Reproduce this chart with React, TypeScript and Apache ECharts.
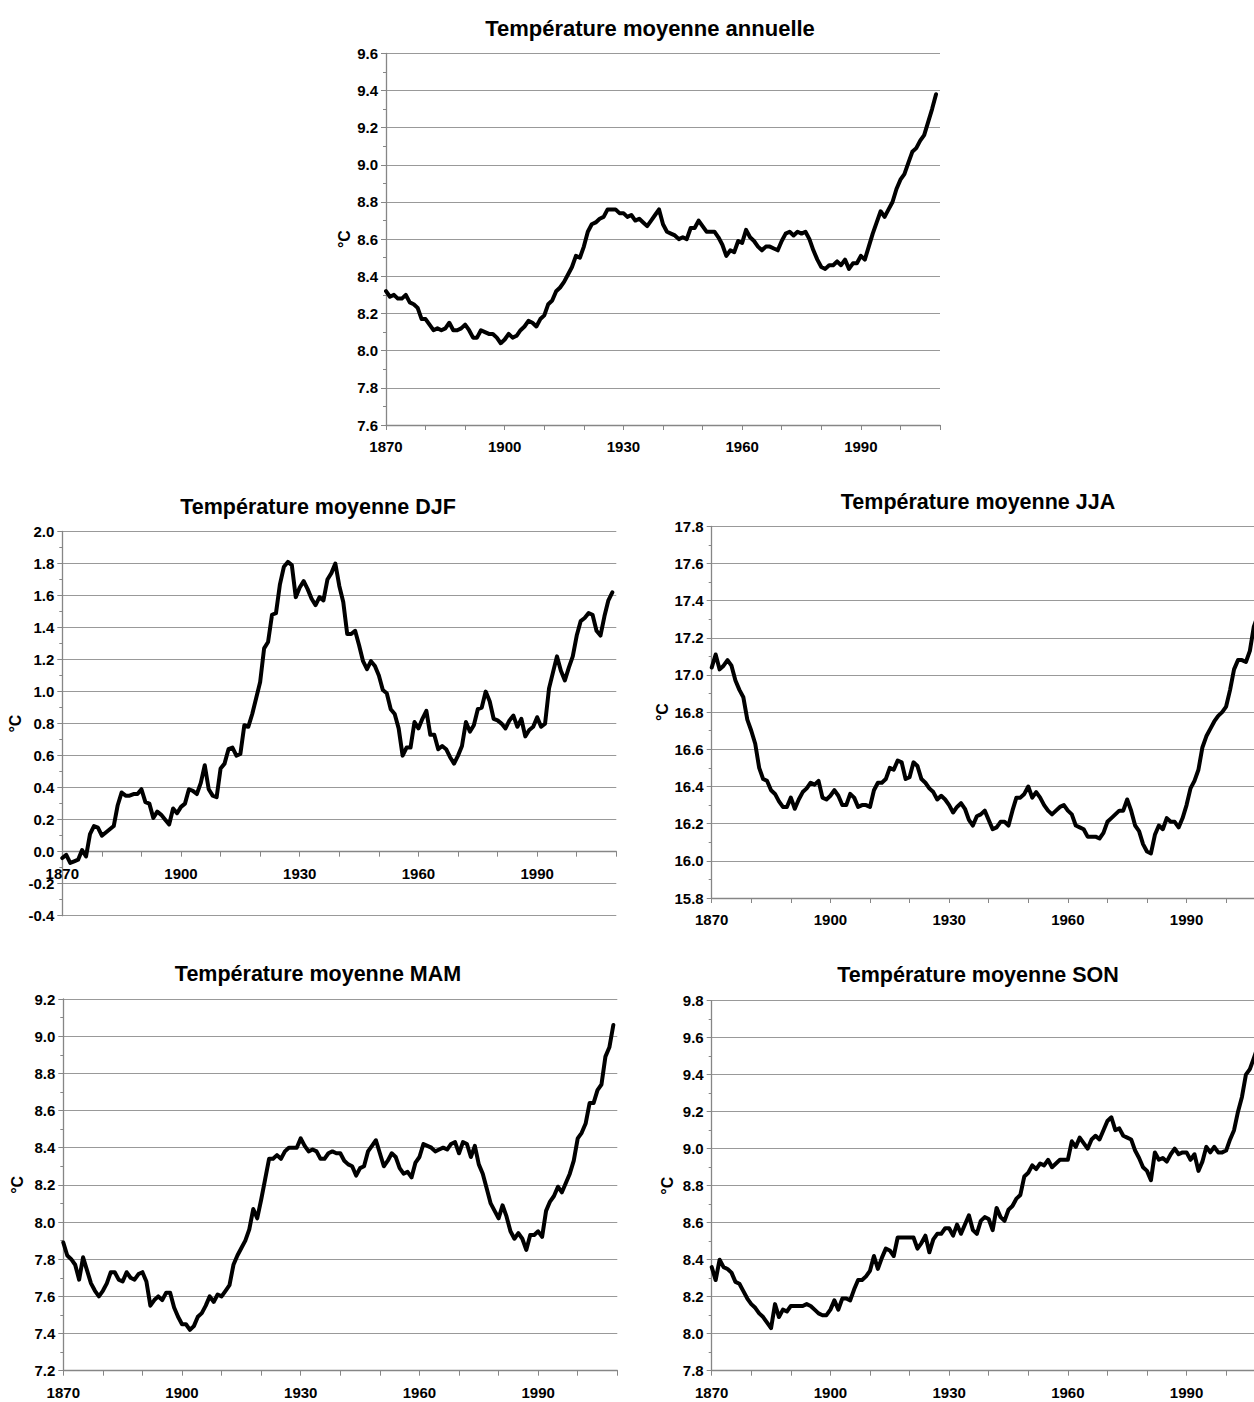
import React, { useEffect, useRef } from "react";
import * as echarts from "echarts";

const startYear = 1870;
const years: number[] = Array.from({ length: 140 }, (_, i) => startYear + i);

const annual = [
  8.32, 8.29, 8.30, 8.28, 8.28, 8.30, 8.26, 8.25, 8.23, 8.17,
  8.17, 8.14, 8.11, 8.12, 8.11, 8.12, 8.15, 8.11, 8.11, 8.12,
  8.14, 8.11, 8.07, 8.07, 8.11, 8.10, 8.09, 8.09, 8.07, 8.04,
  8.06, 8.09, 8.07, 8.08, 8.11, 8.13, 8.16, 8.15, 8.13, 8.17,
  8.19, 8.25, 8.27, 8.32, 8.34, 8.37, 8.41, 8.45, 8.51, 8.50,
  8.56, 8.64, 8.68, 8.69, 8.71, 8.72, 8.76, 8.76, 8.76, 8.74,
  8.74, 8.72, 8.73, 8.70, 8.71, 8.69, 8.67, 8.70, 8.73, 8.76,
  8.68, 8.64, 8.63, 8.62, 8.60, 8.61, 8.60, 8.66, 8.66, 8.70,
  8.67, 8.64, 8.64, 8.64, 8.61, 8.57, 8.51, 8.54, 8.53, 8.59,
  8.58, 8.65, 8.61, 8.59, 8.56, 8.54, 8.56, 8.56, 8.55, 8.54,
  8.59, 8.63, 8.64, 8.62, 8.64, 8.63, 8.64, 8.60, 8.54, 8.49,
  8.45, 8.44, 8.46, 8.46, 8.48, 8.46, 8.49, 8.44, 8.47, 8.47,
  8.51, 8.49, 8.56, 8.63, 8.69, 8.75, 8.72, 8.76, 8.80, 8.87,
  8.92, 8.95, 9.01, 9.07, 9.09, 9.13, 9.16, 9.23, 9.30, 9.38,
];

const djf = [
  -0.04, -0.02, -0.07, -0.06, -0.05, 0.01, -0.03, 0.11, 0.16, 0.15,
  0.10, 0.12, 0.14, 0.16, 0.29, 0.37, 0.35, 0.35, 0.36, 0.36,
  0.39, 0.31, 0.30, 0.21, 0.25, 0.23, 0.20, 0.17, 0.27, 0.24,
  0.28, 0.30, 0.39, 0.38, 0.36, 0.43, 0.54, 0.39, 0.35, 0.34,
  0.52, 0.55, 0.64, 0.65, 0.60, 0.61, 0.79, 0.78, 0.86, 0.96,
  1.06, 1.27, 1.31, 1.48, 1.49, 1.67, 1.78, 1.81, 1.79, 1.59,
  1.65, 1.69, 1.64, 1.58, 1.54, 1.59, 1.57, 1.70, 1.74, 1.80,
  1.66, 1.56, 1.36, 1.36, 1.38, 1.29, 1.19, 1.14, 1.19, 1.16,
  1.10, 1.01, 0.99, 0.89, 0.86, 0.77, 0.60, 0.65, 0.65, 0.81,
  0.77, 0.83, 0.88, 0.73, 0.73, 0.64, 0.66, 0.64, 0.59, 0.55,
  0.60, 0.66, 0.81, 0.75, 0.79, 0.89, 0.90, 1.00, 0.94, 0.83,
  0.82, 0.80, 0.77, 0.82, 0.85, 0.78, 0.83, 0.72, 0.76, 0.78,
  0.84, 0.78, 0.80, 1.02, 1.12, 1.22, 1.13, 1.07, 1.15, 1.22,
  1.35, 1.44, 1.46, 1.49, 1.48, 1.38, 1.35, 1.47, 1.57, 1.62,
];

const jja = [
  17.04, 17.11, 17.03, 17.05, 17.08, 17.05, 16.97, 16.92, 16.88, 16.76,
  16.70, 16.63, 16.50, 16.44, 16.43, 16.38, 16.36, 16.32, 16.29, 16.29,
  16.34, 16.28, 16.33, 16.37, 16.39, 16.42, 16.41, 16.43, 16.34, 16.33,
  16.35, 16.38, 16.35, 16.30, 16.30, 16.36, 16.34, 16.29, 16.30, 16.30,
  16.29, 16.38, 16.42, 16.42, 16.44, 16.50, 16.49, 16.54, 16.53, 16.44,
  16.45, 16.53, 16.51, 16.44, 16.42, 16.39, 16.37, 16.33, 16.35, 16.33,
  16.30, 16.26, 16.29, 16.31, 16.28, 16.22, 16.19, 16.24, 16.25, 16.27,
  16.22, 16.17, 16.18, 16.21, 16.21, 16.19, 16.27, 16.34, 16.34, 16.36,
  16.40, 16.34, 16.37, 16.34, 16.30, 16.27, 16.25, 16.27, 16.29, 16.30,
  16.27, 16.25, 16.19, 16.18, 16.17, 16.13, 16.13, 16.13, 16.12, 16.15,
  16.21, 16.23, 16.25, 16.27, 16.27, 16.33, 16.27, 16.19, 16.16, 16.09,
  16.05, 16.04, 16.14, 16.19, 16.17, 16.23, 16.21, 16.21, 16.18, 16.23,
  16.30, 16.39, 16.43, 16.49, 16.61, 16.67, 16.71, 16.75, 16.78, 16.80,
  16.83, 16.92, 17.03, 17.08, 17.08, 17.07, 17.13, 17.26, 17.32, 17.40,
];

const mam = [
  7.89, 7.82, 7.80, 7.77, 7.69, 7.81, 7.74, 7.67, 7.63, 7.60,
  7.63, 7.67, 7.73, 7.73, 7.69, 7.68, 7.73, 7.70, 7.69, 7.72,
  7.73, 7.68, 7.55, 7.58, 7.60, 7.58, 7.62, 7.62, 7.54, 7.49,
  7.45, 7.45, 7.42, 7.44, 7.49, 7.51, 7.55, 7.60, 7.57, 7.61,
  7.60, 7.63, 7.66, 7.77, 7.82, 7.86, 7.90, 7.96, 8.07, 8.02,
  8.12, 8.23, 8.34, 8.34, 8.36, 8.34, 8.38, 8.40, 8.40, 8.40,
  8.45, 8.41, 8.38, 8.39, 8.38, 8.34, 8.34, 8.37, 8.38, 8.37,
  8.37, 8.33, 8.31, 8.30, 8.25, 8.29, 8.30, 8.38, 8.41, 8.44,
  8.37, 8.30, 8.33, 8.37, 8.35, 8.29, 8.26, 8.27, 8.24, 8.32,
  8.35, 8.42, 8.41, 8.40, 8.38, 8.39, 8.40, 8.39, 8.42, 8.43,
  8.37, 8.43, 8.42, 8.35, 8.41, 8.31, 8.26, 8.18, 8.10, 8.06,
  8.02, 8.09, 8.03, 7.95, 7.91, 7.94, 7.91, 7.85, 7.93, 7.93,
  7.95, 7.92, 8.06, 8.11, 8.14, 8.19, 8.16, 8.21, 8.26, 8.33,
  8.45, 8.48, 8.53, 8.64, 8.64, 8.71, 8.74, 8.89, 8.94, 9.06,
];

const son = [
  8.36, 8.29, 8.40, 8.36, 8.35, 8.33, 8.28, 8.27, 8.23, 8.19,
  8.16, 8.14, 8.11, 8.09, 8.06, 8.03, 8.16, 8.09, 8.13, 8.12,
  8.15, 8.15, 8.15, 8.15, 8.16, 8.15, 8.13, 8.11, 8.10, 8.10,
  8.13, 8.18, 8.13, 8.19, 8.19, 8.18, 8.24, 8.29, 8.29, 8.31,
  8.34, 8.42, 8.35, 8.41, 8.46, 8.45, 8.42, 8.52, 8.52, 8.52,
  8.52, 8.52, 8.46, 8.49, 8.53, 8.44, 8.51, 8.54, 8.54, 8.57,
  8.57, 8.53, 8.59, 8.54, 8.59, 8.64, 8.56, 8.54, 8.61, 8.63,
  8.62, 8.56, 8.68, 8.63, 8.61, 8.67, 8.69, 8.73, 8.75, 8.85,
  8.87, 8.91, 8.89, 8.92, 8.91, 8.94, 8.90, 8.92, 8.94, 8.94,
  8.94, 9.04, 9.01, 9.06, 9.03, 9.00, 9.05, 9.07, 9.05, 9.10,
  9.15, 9.17, 9.10, 9.11, 9.07, 9.06, 9.05, 8.99, 8.95, 8.90,
  8.88, 8.83, 8.98, 8.94, 8.95, 8.93, 8.97, 9.00, 8.97, 8.98,
  8.98, 8.94, 8.97, 8.88, 8.93, 9.01, 8.98, 9.01, 8.98, 8.98,
  8.99, 9.05, 9.10, 9.20, 9.28, 9.40, 9.43, 9.49, 9.55, 9.62,
];

const titles = [
  "Température moyenne annuelle",
  "Température moyenne DJF",
  "Température moyenne JJA",
  "Température moyenne MAM",
  "Température moyenne SON",
];
const seriesValues = [annual, djf, jja, mam, son];
const yMins = [7.6, -0.4, 15.8, 7.2, 7.8];
const yMaxs = [9.6, 2.0, 17.8, 9.2, 9.8];
const xMin = 1870;
const xMax = 2010;
const xLabelStep = 30;
const yUnit = "°C";

// layout (pixels)
const panels = [
  { left: 386, top: 53.3, width: 554, height: 371.7, tx: 650, ty: 28, nameGap: 34 },
  { left: 62.3, top: 531.5, width: 554, height: 384.2, tx: 318, ty: 507, nameGap: 39 },
  { left: 711.7, top: 526.3, width: 554, height: 371.7, tx: 978, ty: 502, nameGap: 39 },
  { left: 63.3, top: 999, width: 554, height: 371.7, tx: 318, ty: 974, nameGap: 38 },
  { left: 711.7, top: 1000.7, width: 554, height: 370, tx: 978, ty: 975, nameGap: 36 },
];

const FONT = "'Liberation Sans', Arial, sans-serif";
const AXIS_COLOR = "#868686";
const GRID_COLOR = "#999999";

export default function App() {
  const ref = useRef<HTMLDivElement>(null);

  useEffect(() => {
    if (!ref.current) return;
    const chart = echarts.init(ref.current, undefined, { renderer: "svg" });

    const grid = panels.map((p) => ({
      left: p.left,
      top: p.top,
      width: p.width,
      height: p.height,
      containLabel: false,
    }));

    const xAxis = panels.map((p, i) => {
      // place the horizontal axis where y = 0 when the range crosses zero
      const crosses = yMins[i] < 0 && yMaxs[i] > 0;
      const zeroOffset = crosses ? -((0 - yMins[i]) / (yMaxs[i] - yMins[i])) * p.height : 0;
      return {
        gridIndex: i,
        type: "value",
        min: xMin,
        max: xMax,
        interval: 10,
        offset: zeroOffset,
        axisLine: { show: true, onZero: false, lineStyle: { color: AXIS_COLOR, width: 1.3 } },
        axisTick: { show: true, length: 5, lineStyle: { color: AXIS_COLOR, width: 1 } },
        splitLine: { show: false },
        axisLabel: {
          color: "#000",
          fontWeight: "bold",
          fontSize: 15,
          fontFamily: FONT,
          margin: 14,
          formatter: (v: number) => {
            const y = Math.round(v);
            return (y - xMin) % xLabelStep === 0 ? String(y) : "";
          },
        },
      };
    });

    const yAxis = panels.map((p, i) => ({
      gridIndex: i,
      type: "value",
      min: yMins[i],
      max: yMaxs[i],
      interval: 0.2,
      name: yUnit,
      nameLocation: "middle",
      nameGap: p.nameGap,
      nameTextStyle: { color: "#000", fontWeight: "bold", fontSize: 16, fontFamily: FONT },
      axisLine: { show: true, lineStyle: { color: AXIS_COLOR, width: 1.3 } },
      axisTick: { show: true, length: 5, lineStyle: { color: AXIS_COLOR, width: 1 } },
      minorTick: { show: true, splitNumber: 2, length: 3, lineStyle: { color: AXIS_COLOR, width: 1 } },
      splitLine: { show: true, lineStyle: { color: GRID_COLOR, width: 1.2 } },
      axisLabel: {
        color: "#000",
        fontWeight: "bold",
        fontSize: 15,
        fontFamily: FONT,
        margin: 8,
        formatter: (v: number) => (Math.abs(v) < 1e-9 ? "0.0" : v.toFixed(1)),
      },
    }));

    const series = seriesValues.map((vals, i) => ({
      type: "line",
      xAxisIndex: i,
      yAxisIndex: i,
      data: years.map((yr, k) => [yr, vals[k]]),
      showSymbol: false,
      symbol: "none",
      lineStyle: { color: "#000", width: 4, join: "round", cap: "round" },
      clip: true,
    }));

    const graphic = panels.map((p, i) => ({
      type: "text",
      x: p.tx,
      y: p.ty,
      style: {
        text: titles[i],
        fill: "#000",
        fontSize: i === 0 ? 22 : 21.5,
        fontWeight: "bold",
        fontFamily: FONT,
        align: "center",
        verticalAlign: "middle",
      },
    }));

    chart.setOption({
      animation: false,
      backgroundColor: "#fff",
      grid,
      xAxis,
      yAxis,
      series,
      graphic,
    } as any);

    return () => chart.dispose();
  }, []);

  return (
    <div
      style={{
        position: "fixed",
        left: 0,
        top: 0,
        width: 1254,
        height: 1402,
        overflow: "hidden",
        background: "#fff",
      }}
    >
      <div ref={ref} style={{ width: 1290, height: 1402 }} />
    </div>
  );
}
